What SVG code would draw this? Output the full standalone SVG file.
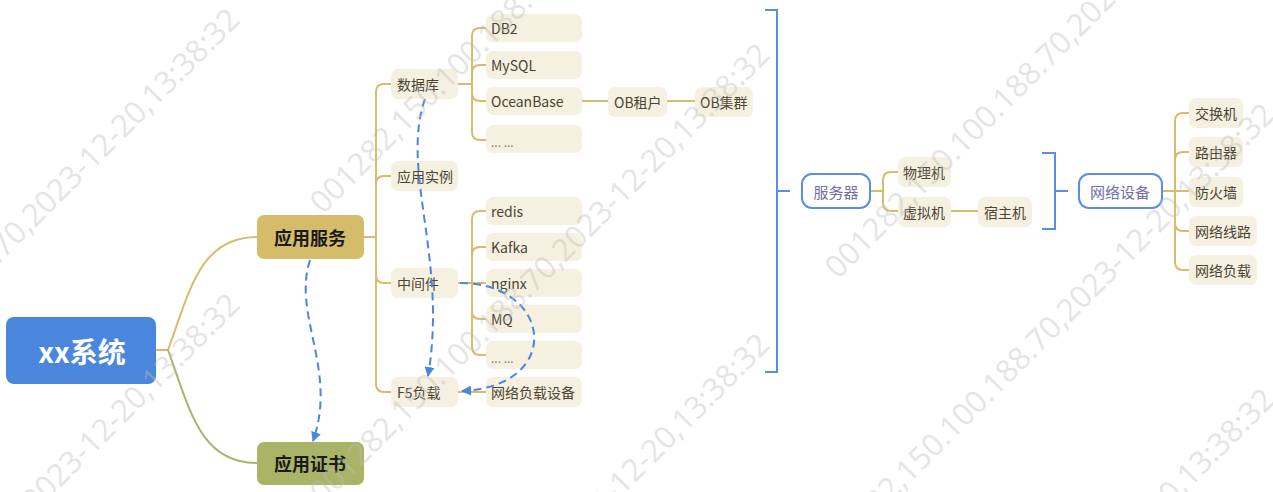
<svg xmlns="http://www.w3.org/2000/svg" width="1273" height="492" viewBox="0 0 1273 492">
<style>
  .ln{fill:none;stroke:#d6bc6c;stroke-width:2}
  .ln2{fill:none;stroke:#abb468;stroke-width:2}
  .br{fill:none;stroke:#5a8ee6;stroke-width:2}
  .dash{fill:none;stroke:#4a86e0;stroke-width:2;stroke-dasharray:8 5}
  .sub{fill:#f5f0e0}
  .t{font-family:"Noto Sans CJK SC","Noto Sans",sans-serif;font-size:14px;fill:#4d4432;dominant-baseline:central}
  .dots{font-family:"Noto Sans CJK SC","Noto Sans",sans-serif;font-size:12px;fill:#8a8470;dominant-baseline:central}
  .main{font-family:"Noto Sans CJK SC",sans-serif;font-size:18px;font-weight:bold;fill:#1a1a1a;dominant-baseline:central;text-anchor:middle}
  .blue{fill:#ffffff;stroke:#5a8ee6;stroke-width:2}
  .bt{font-family:"Noto Sans CJK SC",sans-serif;font-size:15px;fill:#7070a2;dominant-baseline:central;text-anchor:middle}
  .wm{font-family:"Open Sans","Noto Sans",sans-serif;font-size:31px;fill:#bdbdbd;fill-opacity:0.42}
</style>
<defs>
  <marker id="arr" viewBox="0 0 10 10" refX="9" refY="5" markerWidth="5" markerHeight="5" orient="auto" markerUnits="strokeWidth">
    <path d="M0,0 L10,5 L0,10 z" fill="#4a86e0"/>
  </marker>
</defs>
<rect width="1273" height="492" fill="#ffffff"/>

<g id="connectors">
  <path class="ln" d="M155,350 L168,350 C190,290 200,237 257,237"/>
  <path class="ln2" d="M168,350 C190,410 200,463 257,463"/>
  <path class="ln" d="M364,237 L376,237"/>
  <path class="ln" d="M376,237 L376,92 Q376,84 384,84 L392,84"/>
  <path class="ln" d="M376,237 L376,184 Q376,176 384,176 L392,176"/>
  <path class="ln" d="M376,237 L376,275 Q376,283 384,283 L392,283"/>
  <path class="ln" d="M376,237 L376,384 Q376,392 384,392 L392,392"/>
  <path class="ln" d="M458,84 L472,84 L472,36 Q472,28 480,28 L486,28"/>
  <path class="ln" d="M472,84 L472,73 Q472,65 480,65 L486,65"/>
  <path class="ln" d="M472,84 L472,93 Q472,101 480,101 L486,101"/>
  <path class="ln" d="M472,84 L472,132 Q472,140 480,140 L486,140"/>
  <path class="ln" d="M582,101 L608,101 M667,101 L695,101"/>
  <path class="ln" d="M458,283 L472,283 L472,219 Q472,211 480,211 L486,211"/>
  <path class="ln" d="M472,283 L472,255 Q472,247 480,247 L486,247"/>
  <path class="ln" d="M472,283 L486,283"/>
  <path class="ln" d="M472,283 L472,311 Q472,319 480,319 L486,319"/>
  <path class="ln" d="M472,283 L472,347 Q472,355 480,355 L486,355"/>
  <path class="ln" d="M458,392 L486,392"/>
  <path class="br" d="M765,10 L777,10 L777,372 L765,372 M777,191 L790,191"/>
  <path class="ln" d="M870,191 L883,191 L883,180 Q883,172 891,172 L898,172 M883,191 L883,203 Q883,211 891,211 L898,211"/>
  <path class="ln" d="M951,211 L978,211"/>
  <path class="br" d="M1042,153 L1055,153 L1055,229 L1042,229 M1055,191 L1068,191"/>
  <path class="ln" d="M1162,191 L1175,191 L1175,121 Q1175,113 1183,113 L1189,113"/>
  <path class="ln" d="M1175,191 L1175,160 Q1175,152 1183,152 L1189,152"/>
  <path class="ln" d="M1175,191 L1189,191"/>
  <path class="ln" d="M1175,191 L1175,223 Q1175,231 1183,231 L1189,231"/>
  <path class="ln" d="M1175,191 L1175,262 Q1175,270 1183,270 L1189,270"/>
</g>

<g id="n-root"><rect x="6" y="317" width="150" height="67" rx="8" fill="#4a86db"/><text x="82" y="351" font-family="Noto Sans CJK SC,sans-serif" font-size="28" font-weight="bold" fill="#ffffff" text-anchor="middle" dominant-baseline="central">xx系统</text></g>
<g id="n-appsvc"><rect x="257" y="215" width="107" height="44" rx="7" fill="#d4bc6a"/><text class="main" x="310" y="237">应用服务</text></g>
<g id="n-cert"><rect x="257" y="442" width="107" height="43" rx="7" fill="#aab466"/><text class="main" x="310" y="463">应用证书</text></g>

<g id="n-db"><rect class="sub" x="391" y="69" width="67" height="30" rx="7"/><text class="t" x="397" y="84">数据库</text></g>
<g id="n-inst"><rect class="sub" x="391" y="161" width="67" height="30" rx="7"/><text class="t" x="397" y="176">应用实例</text></g>
<g id="n-mw"><rect class="sub" x="391" y="268" width="67" height="30" rx="7"/><text class="t" x="397" y="283">中间件</text></g>
<g id="n-f5"><rect class="sub" x="391" y="377" width="67" height="30" rx="7"/><text class="t" x="397" y="392">F5负载</text></g>

<g id="n-db2"><rect class="sub" x="486" y="14" width="96" height="28" rx="7"/><text class="t" x="491" y="28">DB2</text></g>
<g id="n-mysql"><rect class="sub" x="486" y="51" width="96" height="28" rx="7"/><text class="t" x="491" y="65">MySQL</text></g>
<g id="n-ob"><rect class="sub" x="486" y="87" width="96" height="28" rx="7"/><text class="t" x="491" y="101">OceanBase</text></g>
<g id="n-dbmore"><rect class="sub" x="486" y="125" width="96" height="28" rx="7"/><text class="dots" x="491" y="141">... ...</text></g>
<g id="n-obt"><rect class="sub" x="608" y="87" width="59" height="30" rx="7"/><text class="t" x="614" y="102">OB租户</text></g>
<g id="n-obc"><rect class="sub" x="695" y="87" width="58" height="30" rx="7"/><text class="t" x="700" y="102">OB集群</text></g>

<g id="n-redis"><rect class="sub" x="486" y="197" width="96" height="28" rx="7"/><text class="t" x="491" y="211">redis</text></g>
<g id="n-kafka"><rect class="sub" x="486" y="233" width="96" height="28" rx="7"/><text class="t" x="491" y="247">Kafka</text></g>
<g id="n-nginx"><rect class="sub" x="486" y="269" width="96" height="28" rx="7"/><text class="t" x="491" y="283">nginx</text></g>
<g id="n-mq"><rect class="sub" x="486" y="305" width="96" height="28" rx="7"/><text class="t" x="491" y="319">MQ</text></g>
<g id="n-mwmore"><rect class="sub" x="486" y="341" width="96" height="28" rx="7"/><text class="dots" x="491" y="357">... ...</text></g>
<g id="n-lb"><rect class="sub" x="486" y="377" width="96" height="30" rx="7"/><text class="t" x="491" y="392">网络负载设备</text></g>

<g id="n-server"><rect class="blue" x="802" y="174" width="68" height="34" rx="10"/><text class="bt" x="836" y="191">服务器</text></g>
<g id="n-phys"><rect class="sub" x="898" y="157" width="53" height="30" rx="7"/><text class="t" x="903" y="172">物理机</text></g>
<g id="n-vm"><rect class="sub" x="898" y="197" width="53" height="30" rx="7"/><text class="t" x="903" y="212">虚拟机</text></g>
<g id="n-host"><rect class="sub" x="978" y="197" width="54" height="30" rx="7"/><text class="t" x="984" y="212">宿主机</text></g>

<g id="n-net"><rect class="blue" x="1079" y="174" width="83" height="34" rx="10"/><text class="bt" x="1120" y="191">网络设备</text></g>
<g id="n-sw"><rect class="sub" x="1189" y="98" width="54" height="30" rx="7"/><text class="t" x="1195" y="113">交换机</text></g>
<g id="n-rt"><rect class="sub" x="1189" y="137" width="54" height="30" rx="7"/><text class="t" x="1195" y="152">路由器</text></g>
<g id="n-fw"><rect class="sub" x="1189" y="177" width="54" height="30" rx="7"/><text class="t" x="1195" y="192">防火墙</text></g>
<g id="n-line"><rect class="sub" x="1189" y="216" width="68" height="30" rx="7"/><text class="t" x="1195" y="231">网络线路</text></g>
<g id="n-nlb"><rect class="sub" x="1189" y="255" width="68" height="30" rx="7"/><text class="t" x="1195" y="270">网络负载</text></g>

<g id="relations">
  <path class="dash" marker-end="url(#arr)" d="M425,99 C400,170 448,260 428,376"/>
  <path class="dash" marker-end="url(#arr)" d="M460,283 C552,283 565,386 462,391"/>
  <path class="dash" marker-end="url(#arr)" d="M310,260 C292,315 338,370 313,441"/>
</g>

<g id="watermark">
  <text class="wm" transform="translate(-207,470) rotate(-45)">001282,150.100.188.70,2023-12-20,13:38:32</text>
  <text class="wm" transform="translate(-207,755) rotate(-45)">001282,150.100.188.70,2023-12-20,13:38:32</text>
  <text class="wm" transform="translate(323,215) rotate(-45)">001282,150.100.188.70,2023-12-20,13:38:32</text>
  <text class="wm" transform="translate(323,505) rotate(-45)">001282,150.100.188.70,2023-12-20,13:38:32</text>
  <text class="wm" transform="translate(323,795) rotate(-45)">001282,150.100.188.70,2023-12-20,13:38:32</text>
  <text class="wm" transform="translate(838,280) rotate(-45)">001282,150.100.188.70,2023-12-20,13:38:32</text>
  <text class="wm" transform="translate(828,565) rotate(-45)">001282,150.100.188.70,2023-12-20,13:38:32</text>
  <text class="wm" transform="translate(828,850) rotate(-45)">001282,150.100.188.70,2023-12-20,13:38:32</text>
</g>
</svg>
